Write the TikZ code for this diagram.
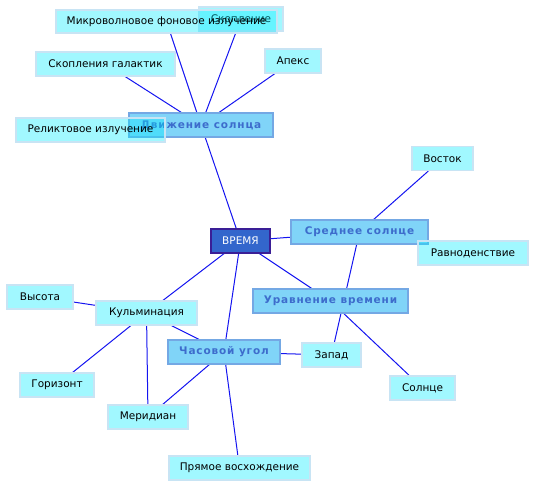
\documentclass[tikz,border=0pt]{standalone}
\usepackage{fontspec}
\setmainfont{DejaVu Sans}
\newfontfamily\spacedfont[LetterSpace=8]{DejaVu Sans}
\usetikzlibrary{backgrounds}
\definecolor{leafbase}{HTML}{00ECFF}
\definecolor{lightborder}{HTML}{C8E4F4}
\definecolor{midfill}{HTML}{80D4F8}
\definecolor{midborder}{HTML}{74A8E4}
\definecolor{midtext}{HTML}{3D6CCC}
\definecolor{rootfill}{HTML}{3366CC}
\definecolor{rootborder}{HTML}{3A1E96}
\definecolor{edgecol}{HTML}{1414F0}
\tikzset{
  base/.style={rectangle, inner sep=0pt, minimum height=24pt, line width=1.2pt,
    font=\fontsize{10.5}{12}\selectfont},
  leaf/.style={base, draw=lightborder, fill=leafbase, fill opacity=0.37,
    text opacity=1, text=black},
  topic/.style={base, draw=midborder, fill=midfill, text=midtext,
    font=\fontsize{10.5}{12}\selectfont\spacedfont\bfseries},
  rootnode/.style={base, draw=rootborder, fill=rootfill, text=white},
  link/.style={draw=edgecol, line width=1pt},
}
\begin{document}
\begin{tikzpicture}[x=1pt,y=-1pt]
\useasboundingbox (0,0) rectangle (535,487);
\node[leaf, minimum width=84pt] (skopl) at (241,19) {Скопление};
\node[leaf, minimum width=221pt, minimum height=23pt] (micro) at (166.5,21.5) {Микроволновое фоновое излучение};
\node[leaf, minimum width=139pt] (galakt) at (105.5,64) {Скопления галактик};
\node[leaf, minimum width=56pt] (apex) at (293,61) {Апекс};
\node[topic, minimum width=144pt] (dvizh) at (201,125) {Движение солнца};
\node[leaf, minimum width=149pt] (relikt) at (90.5,130) {Реликтовое излучение};
\node[rootnode, minimum width=59pt] (vremya) at (240.5,241) {ВРЕМЯ};
\node[topic, minimum width=137pt] (sredn) at (359.5,232) {Среднее солнце};
\node[leaf, minimum width=61pt] (vostok) at (442.5,158.5) {Восток};
\node[leaf, minimum width=110pt] (ravnod) at (473,253) {Равноденствие};
\node[topic, minimum width=155pt] (uravn) at (330.5,301) {Уравнение времени};
\node[leaf, minimum width=66pt] (vysota) at (40,297) {Высота};
\node[leaf, minimum width=101pt] (kulm) at (146.5,313) {Кульминация};
\node[topic, minimum width=112pt] (chas) at (224,352) {Часовой угол};
\node[leaf, minimum width=59pt] (zapad) at (331.5,355) {Запад};
\node[leaf, minimum width=74pt] (gorizont) at (57,385) {Горизонт};
\node[leaf, minimum width=80pt] (meridian) at (148,417) {Меридиан};
\node[leaf, minimum width=65pt] (solnce) at (422.5,388) {Солнце};
\node[leaf, minimum width=141pt] (pryamoe) at (239.5,468) {Прямое восхождение};
\begin{scope}[on background layer]
\draw[link] (dvizh) -- (micro);
\draw[link] (dvizh) -- (skopl);
\draw[link] (dvizh) -- (galakt);
\draw[link] (dvizh) -- (apex);
\draw[link] (dvizh) -- (vremya);
\draw[link] (vremya) -- (sredn);
\draw[link] (vremya) -- (kulm);
\draw[link] (vremya) -- (chas);
\draw[link] (vremya) -- (uravn);
\draw[link] (sredn) -- (vostok);
\draw[link] (sredn) -- (zapad);
\draw[link] (uravn) -- (solnce);
\draw[link] (kulm) -- (vysota);
\draw[link] (kulm) -- (gorizont);
\draw[link] (kulm) -- (meridian);
\draw[link] (kulm) -- (chas);
\draw[link] (chas) -- (meridian);
\draw[link] (chas) -- (pryamoe);
\draw[link] (chas) -- (zapad);
\end{scope}
\end{tikzpicture}
\end{document}
